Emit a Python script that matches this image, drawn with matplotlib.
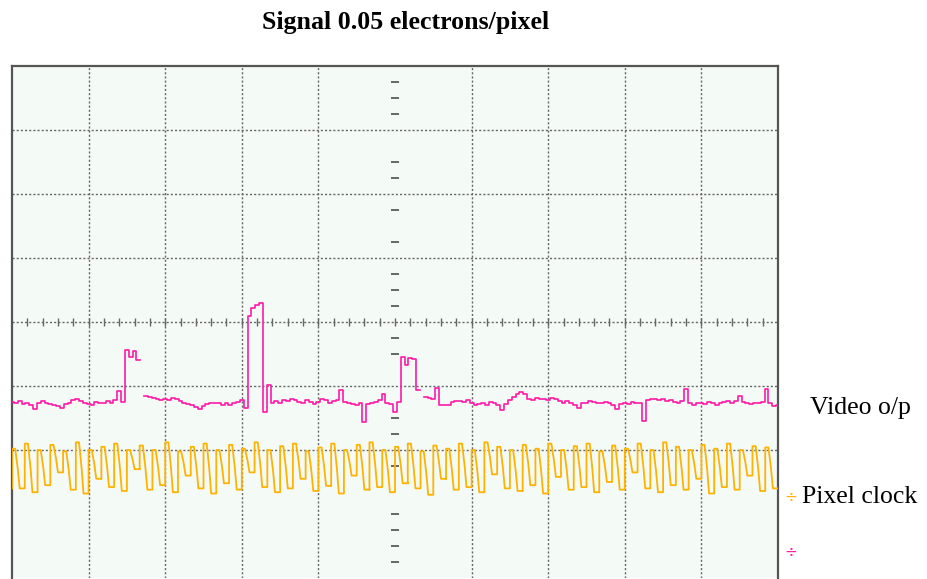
import matplotlib

matplotlib.use("Agg")
import matplotlib.pyplot as plt
import numpy as np

# screen is 10 x 8 divisions, y = 0 at the centre line
title = "Signal 0.05 electrons/pixel"
video_label = "Video o/p"
clock_label = "Pixel clock"

# video o/p trace (divisions), one sample every 0.05 div from the left edge
video = [
    -1.25, -1.27, -1.24, -1.28, -1.26, -1.30, -1.36, -1.27, -1.24, -1.26,
    -1.28, -1.30, -1.31, -1.34, -1.28, -1.26, -1.22, -1.20, -1.24, -1.27,
    -1.28, -1.30, -1.25, -1.27, -1.26, -1.24, -1.26, -1.22, -1.08, -1.25,
    -0.44, -0.55, -0.45, -0.59, np.nan, -1.16, -1.17, -1.19, -1.20, -1.22,
    -1.20, -1.22, -1.19, -1.21, -1.24, -1.27, -1.28, -1.30, -1.33, -1.36,
    -1.31, -1.28, -1.27, -1.26, -1.27, -1.29, -1.27, -1.30, -1.27, -1.25,
    -1.22, -1.35, 0.10, 0.22, 0.27, 0.30, -1.41, -0.98, -1.26, -1.24,
    -1.27, -1.22, -1.24, -1.20, -1.22, -1.25, -1.27, -1.22, -1.25, -1.28,
    -1.25, -1.20, -1.22, -1.27, -1.24, -1.22, -1.06, -1.25, -1.26, -1.28,
    -1.30, -1.27, -1.56, -1.28, -1.26, -1.25, -1.22, -1.12, -1.26, -1.28,
    -1.41, -1.25, -0.55, -0.67, -0.56, -0.58, -1.06, np.nan, -1.17, -1.19,
    -1.20, -1.03, -1.30, -1.30, -1.29, -1.25, -1.24, -1.23, -1.25, -1.22,
    -1.27, -1.30, -1.28, -1.27, -1.29, -1.25, -1.27, -1.30, -1.37, -1.28,
    -1.22, -1.17, -1.12, -1.10, -1.13, -1.20, -1.22, -1.18, -1.20, -1.21,
    -1.22, -1.19, -1.20, -1.23, -1.26, -1.24, -1.27, -1.29, -1.35, -1.26,
    -1.27, -1.24, -1.25, -1.27, -1.26, -1.25, -1.27, -1.30, -1.36, -1.28,
    -1.27, -1.28, -1.25, -1.27, -1.26, -1.55, -1.22, -1.20, -1.21, -1.22,
    -1.21, -1.23, -1.22, -1.25, -1.27, -1.24, -1.05, -1.27, -1.29, -1.27,
    -1.26, -1.28, -1.25, -1.27, -1.30, -1.27, -1.25, -1.24, -1.26, -1.24,
    -1.15, -1.25, -1.27, -1.28, -1.26, -1.27, -1.25, -1.05, -1.27, -1.31,
    -1.30,
]

# pixel clock, per cycle: top level and bottom level (divisions)
clock_high = [
    -1.98, -1.90, -2.00, -1.92, -2.02, -1.88, -2.00, -1.95, -1.90, -2.00,
    -1.93, -2.00, -1.88, -2.02, -1.95, -1.90, -2.00, -1.92, -1.98, -1.88,
    -2.00, -1.94, -1.90, -2.02, -1.96, -1.90, -2.00, -1.92, -1.88, -2.00,
    -1.95, -1.90, -2.02, -1.93, -1.98, -1.90, -2.00, -1.88, -1.95, -2.00,
    -1.92, -1.98, -1.90, -2.00, -1.94, -1.90, -2.02, -1.93, -1.98, -1.90,
    -2.00, -1.88, -1.95, -2.00, -1.92, -1.98, -1.90, -2.00, -1.94, -1.96,
]
clock_low = [
    -2.60, -2.66, -2.55, -2.35, -2.62, -2.68, -2.45, -2.58, -2.64, -2.30,
    -2.62, -2.55, -2.66, -2.40, -2.60, -2.68, -2.52, -2.62, -2.35, -2.58,
    -2.66, -2.60, -2.45, -2.64, -2.56, -2.68, -2.40, -2.62, -2.58, -2.66,
    -2.52, -2.60, -2.70, -2.45, -2.62, -2.58, -2.66, -2.38, -2.60, -2.64,
    -2.55, -2.68, -2.42, -2.62, -2.58, -2.66, -2.50, -2.62, -2.35, -2.60,
    -2.66, -2.55, -2.62, -2.45, -2.68, -2.58, -2.62, -2.40, -2.64, -2.60,
]

# small marks drawn on the centre vertical line
centre_marks = [3.75, 3.5, 3.25, 2.5, 2.25, 1.75, 1.25, 0.75, 0.5, 0.25,
                -0.25, -0.5, -1.5, -1.75, -2.25, -3.0, -3.25, -3.5, -3.75]

VIDEO_COLOR = "#ff1aa8"
CLOCK_COLOR = "#ffb300"
GRID_COLOR = "#666666"
SERIF = ["Liberation Serif", "DejaVu Serif"]


def clock_trace(highs, lows, width=10.0):
    period = width / len(highs)
    xs, ys = [0.0], [lows[-1]]
    for k, (hi, lo) in enumerate(zip(highs, lows)):
        x0 = k * period
        xs += [x0, x0, x0 + 0.25 * period, x0 + 0.45 * period, x0 + 0.6 * period, x0 + period]
        ys += [ys[-1], hi, hi, 0.5 * (hi + lo), lo, lo]
    return np.array(xs), np.array(ys)


def main() -> int:
    fig = plt.figure(figsize=(9.28, 5.79), dpi=100)
    ax = fig.add_axes([12 / 928, 1 / 579, 766 / 928, 512 / 579])
    ax.set_facecolor("#f4faf6")
    ax.set_xlim(0, 10)
    ax.set_ylim(-4, 4)
    ax.set_xticks([])
    ax.set_yticks([])
    for side in ("left", "top", "right"):
        ax.spines[side].set_color("#555555")
        ax.spines[side].set_linewidth(1.6)
    ax.spines["bottom"].set_visible(False)

    grid_kw = dict(color=GRID_COLOR, lw=1.0, linestyle=(0, (1.5, 1.5)), zorder=1)
    for xv in [1, 2, 3, 4, 6, 7, 8, 9]:
        ax.axvline(xv, **grid_kw)
    for yv in [3, 2, 1, 0, -1, -2]:
        ax.axhline(yv, **grid_kw)
    ax.vlines(np.arange(0.2, 10, 0.2), -0.06, 0.06, color=GRID_COLOR, lw=1.0, zorder=1)
    ax.hlines(centre_marks, 4.95, 5.05, color=GRID_COLOR, lw=1.4, zorder=1)

    cx, cy = clock_trace(clock_high, clock_low)
    ax.plot(cx, cy, color=CLOCK_COLOR, lw=1.3, zorder=3)

    vx = np.linspace(0, 10, len(video))
    ax.plot(vx, video, color=VIDEO_COLOR, lw=1.2, drawstyle="steps-mid", zorder=4)

    ax.text(10.08, -2.73, "÷", color=CLOCK_COLOR, fontsize=11, ha="left", va="center", clip_on=False)
    ax.text(10.08, -3.59, "÷", color=VIDEO_COLOR, fontsize=11, ha="left", va="center", clip_on=False)

    fig.text(406 / 928, 1 - 22 / 579, title, ha="center", va="center",
             fontsize=18.6, fontweight="bold", family=SERIF)
    fig.text(860 / 928, 1 - 408 / 579, video_label, ha="center", va="center",
             fontsize=18.5, family=SERIF)
    fig.text(860 / 928, 1 - 497 / 579, clock_label, ha="center", va="center",
             fontsize=18.5, family=SERIF)

    fig.savefig("out.png", dpi=100)
    plt.close(fig)
    return 0


if __name__ == "__main__":
    raise SystemExit(main())
